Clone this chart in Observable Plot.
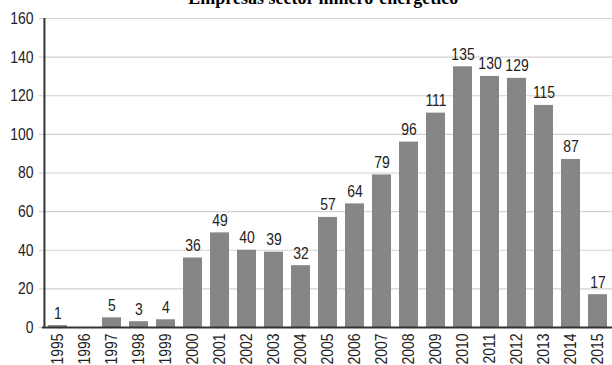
<!DOCTYPE html>
<html>
<head>
<meta charset="utf-8">
<script src="https://cdn.jsdelivr.net/npm/d3@7"></script>
<script src="https://cdn.jsdelivr.net/npm/@observablehq/plot@0.6"></script>
<style>
  html, body { margin: 0; padding: 0; background: #fff; overflow: hidden; }
  #wrap { position: relative; width: 612px; height: 365px; }
  #title {
    position: absolute; left: 0; width: 636px; top: -12px;
    text-align: center; font: bold 18px "Liberation Serif", "Times New Roman", serif;
    color: #000; z-index: 2; white-space: nowrap;
  }
  #chart { position: absolute; left: 0; top: 0; }
</style>
</head>
<body>
<div id="wrap">
  <div id="title">- Empresas sector minero-energético</div>
  <div id="chart"></div>
</div>
<script>
// Companies in the mining-energy sector, per year
const years = ["1995","1996","1997","1998","1999","2000","2001","2002","2003","2004",
               "2005","2006","2007","2008","2009","2010","2011","2012","2013","2014","2015"];
const counts = [1, 0, 5, 3, 4, 36, 49, 40, 39, 32, 57, 64, 79, 96, 111, 135, 130, 129, 115, 87, 17];
const labelled = [true, false, true, true, true, true, true, true, true, true,
                  true, true, true, true, true, true, true, true, true, true, true];
const yTicks = [0, 20, 40, 60, 80, 100, 120, 140, 160];

const data = years.map((year, i) => ({year, count: counts[i], label: labelled[i]}));

const font = "'Liberation Sans', Arial, sans-serif";
// narrow-looking type: squeeze every label horizontally
const squeeze = 0.82;

const chart = Plot.plot({
  width: 612,
  height: 365,
  marginLeft: 42,
  marginRight: 0,
  marginTop: 18,
  marginBottom: 38,
  style: {fontFamily: font, background: "#fff", color: "#222"},
  x: {domain: years, paddingInner: 0.3, paddingOuter: 0.15, label: null},
  y: {domain: [0, 160], label: null},
  marks: [
    Plot.gridY(yTicks.filter(d => d > 0), {stroke: "#d2d2d2", strokeOpacity: 1, strokeWidth: 1.2}),
    Plot.barY(data, {x: "year", y: "count", fill: "#868686"}),
    Plot.text(data.filter(d => d.label), {
      x: "year", y: "count", text: d => String(d.count),
      lineAnchor: "bottom", dy: -7, fontSize: 17, fill: "#222"
    }),
    Plot.axisY({ticks: yTicks, tickSize: 3, tickPadding: 6, fontSize: 17, stroke: "#c8c8c8", fill: "#222"}),
    Plot.axisX({tickSize: 0, tickRotate: -90, tickPadding: 6, fontSize: 17, fill: "#222"}),
    Plot.ruleX([years[0]], {dx: -13.57, y1: 0, y2: 160, stroke: "#333", strokeWidth: 2}),
    Plot.ruleY([0], {stroke: "#333", strokeWidth: 2})
  ]
});
document.getElementById("chart").appendChild(chart);

chart.querySelectorAll("text").forEach(t => {
  const len = t.getComputedTextLength();
  if (len > 0) {
    t.setAttribute("textLength", (len * squeeze).toFixed(2));
    t.setAttribute("lengthAdjust", "spacingAndGlyphs");
  }
});
</script>
</body>
</html>
